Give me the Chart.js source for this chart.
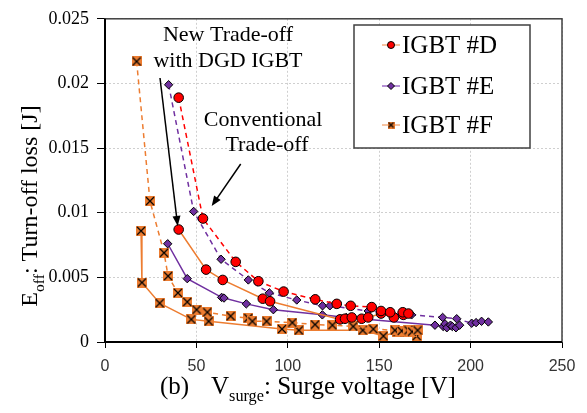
<!DOCTYPE html>
<html lang="en">
<head>
<meta charset="UTF-8">
<title>Turn-off loss vs surge voltage</title>
<script src="https://cdn.jsdelivr.net/npm/chart.js"></script>
<style>
  html, body { margin: 0; padding: 0; background: #fff; }
  #wrap { width: 587px; height: 413px; }
</style>
</head>
<body>
<div id="wrap"><canvas id="chart" width="587" height="413"></canvas></div>
<script>
// IGBT #D
const dConvX = [40.3, 53.6, 71.5, 83.9, 97.7, 115, 126.8, 134.4, 145.9, 151, 156, 162.9, 166];
const dConvY = [0.0189, 0.00955, 0.0062, 0.0047, 0.0039, 0.0033, 0.00295, 0.0028, 0.0027, 0.0024, 0.0023, 0.0023, 0.0022];
const dDgdX = [40.3, 55.3, 64.4, 86.3, 90.3, 128.6, 131.3, 135, 140.4, 144, 151, 158, 163.2];
const dDgdY = [0.0087, 0.0056, 0.0048, 0.00335, 0.00315, 0.00175, 0.0018, 0.0019, 0.0018, 0.0019, 0.0022, 0.0019, 0.0021];
// IGBT #E
const eConvX = [34.8, 48.5, 63.5, 78.4, 89.9, 104.9, 119, 123, 144, 156.8, 167.7, 184.7, 192.4, 200.6, 203, 206, 209.7];
const eConvY = [0.0199, 0.0101, 0.0064, 0.0048, 0.0038, 0.00325, 0.0028, 0.0028, 0.0024, 0.0022, 0.0021, 0.0019, 0.0018, 0.00145, 0.0015, 0.0016, 0.00155];
const eDgdX = [34.3, 45, 63.8, 65.1, 77.3, 92.1, 118.9, 132, 180.5, 185, 186, 187, 189, 190, 192, 194];
const eDgdY = [0.0076, 0.0049, 0.00345, 0.0034, 0.00295, 0.0025, 0.0021, 0.0019, 0.0013, 0.0012, 0.0014, 0.0011, 0.0013, 0.0012, 0.0011, 0.0013];
// IGBT #F
const fConvX = [17.3, 24.6, 32.3, 34.5, 39.9, 45.0, 50.1, 56.0, 68.7, 78.4, 80.6, 88.4, 102.5, 114.9, 124.4, 135.8, 146.8, 158.6, 162.3, 166, 168, 171];
const fConvY = [0.0217, 0.0109, 0.0069, 0.0051, 0.0038, 0.0031, 0.0025, 0.0023, 0.0020, 0.00185, 0.0016, 0.0016, 0.0015, 0.00135, 0.0013, 0.0012, 0.0010, 0.0009, 0.00086, 0.0009, 0.0008, 0.0009];
const fDgdX = [19.7, 20.2, 29.9, 47.2, 56.7, 96.8, 106, 141, 152.3, 160, 165, 170.5];
const fDgdY = [0.0086, 0.0046, 0.0030, 0.00175, 0.0016, 0.0010, 0.0009, 0.0009, 0.00046, 0.0008, 0.0008, 0.00046];

const xTicks = [0, 50, 100, 150, 200, 250];
const yTickLabels = ["0", "0.005", "0.01", "0.015", "0.02", "0.025"];
const legendNames = ["IGBT #D", "IGBT #E", "IGBT #F"];

const RED = "#ff0000", PURPLE = "#7030a0", ORANGE = "#ed7d31";
const SERIF = '"Liberation Serif", "Times New Roman", serif';

function pts(xs, ys) { return xs.map((x, i) => ({ x: x, y: ys[i] })); }

// orange square with a black cross
function crossBox(size) {
  const c = document.createElement("canvas");
  c.width = size; c.height = size;
  const g = c.getContext("2d");
  g.fillStyle = ORANGE;
  g.fillRect(0, 0, size, size);
  g.strokeStyle = "#000";
  g.lineWidth = 1.2;
  g.beginPath();
  g.moveTo(1, 1); g.lineTo(size - 1, size - 1);
  g.moveTo(size - 1, 1); g.lineTo(1, size - 1);
  g.stroke();
  return c;
}
const fMarker = crossBox(10);

function series(xs, ys, line, dashed, marker) {
  return Object.assign({
    data: pts(xs, ys),
    showLine: true,
    borderColor: line,
    borderWidth: 1.5,
    borderDash: dashed ? [5, 4] : [],
    pointBorderColor: "#000",
    pointBorderWidth: 1,
    tension: 0
  }, marker);
}

const dMark = { pointStyle: "circle", pointRadius: 4.8, pointBackgroundColor: RED };
const eMark = { pointStyle: "rectRot", pointRadius: 4.2, pointBackgroundColor: PURPLE };
const fMark = { pointStyle: fMarker, pointRadius: 5, pointBackgroundColor: ORANGE };

function drawParts(ctx, parts, x, y, size, center) {
  let w = 0;
  parts.forEach(p => {
    ctx.font = (p.sub ? size * 0.65 : size) + "px " + SERIF;
    w += ctx.measureText(p.t).width;
  });
  let cx = center ? x - w / 2 : x;
  parts.forEach(p => {
    ctx.font = (p.sub ? size * 0.65 : size) + "px " + SERIF;
    ctx.fillText(p.t, cx, p.sub ? y + size * 0.28 : y);
    cx += ctx.measureText(p.t).width;
  });
}

function arrow(ctx, x1, y1, x2, y2) {
  const a = Math.atan2(y2 - y1, x2 - x1);
  ctx.beginPath();
  ctx.moveTo(x1, y1);
  ctx.lineTo(x2 - 6 * Math.cos(a), y2 - 6 * Math.sin(a));
  ctx.stroke();
  ctx.beginPath();
  ctx.moveTo(x2, y2);
  ctx.lineTo(x2 - 10 * Math.cos(a) + 4 * Math.sin(a), y2 - 10 * Math.sin(a) - 4 * Math.cos(a));
  ctx.lineTo(x2 - 10 * Math.cos(a) - 4 * Math.sin(a), y2 - 10 * Math.sin(a) + 4 * Math.cos(a));
  ctx.closePath();
  ctx.fill();
}

const extras = {
  id: "extras",
  afterDraw(chart) {
    const ctx = chart.ctx;
    const a = chart.chartArea;
    ctx.save();
    // frame
    ctx.strokeStyle = "#404040";
    ctx.lineWidth = 1.5;
    ctx.strokeRect(a.left, a.top, a.right - a.left, a.bottom - a.top);
    ctx.strokeStyle = "#000";
    ctx.lineWidth = 2;
    ctx.beginPath();
    ctx.moveTo(a.left, a.top); ctx.lineTo(a.left, a.bottom); ctx.lineTo(a.right, a.bottom);
    ctx.stroke();

    // axis titles
    ctx.fillStyle = "#000";
    ctx.textAlign = "left";
    ctx.textBaseline = "alphabetic";
    drawParts(ctx, [{ t: "(b)" }], 160, 394, 25, false);
    drawParts(ctx, [{ t: "V" }, { t: "surge", sub: true }, { t: ": Surge voltage [V]" }], 211, 394, 25, false);
    ctx.save();
    ctx.translate(37, 206);
    ctx.rotate(-Math.PI / 2);
    drawParts(ctx, [{ t: "E" }, { t: "off", sub: true }, { t: ": Turn-off loss [J]" }], 0, 0, 24, true);
    ctx.restore();

    // annotations
    ctx.textAlign = "center";
    ctx.textBaseline = "middle";
    ctx.font = "22px " + SERIF;
    ctx.fillText("New Trade-off", 228, 35);
    ctx.fillText("with DGD IGBT", 228, 61);
    ctx.fillText("Conventional", 263, 120);
    ctx.fillText("Trade-off", 267, 145);
    ctx.strokeStyle = "#000";
    ctx.lineWidth = 1.5;
    arrow(ctx, 160, 78, 177.7, 226);
    arrow(ctx, 240.7, 164, 211.7, 206);

    // legend
    ctx.fillStyle = "#fff";
    ctx.fillRect(354, 25, 176, 123);
    ctx.strokeStyle = "#404040";
    ctx.lineWidth = 1.5;
    ctx.strokeRect(354, 25, 176, 123);
    const rows = [45, 86, 125];
    const lineCols = ["#f4b183", "#9e6cc7", "#f4b183"];
    rows.forEach((y, i) => {
      ctx.strokeStyle = lineCols[i];
      ctx.lineWidth = 1.5;
      ctx.beginPath(); ctx.moveTo(382, y); ctx.lineTo(400, y); ctx.stroke();
      ctx.strokeStyle = "#000";
      ctx.lineWidth = 1;
      if (i === 0) {
        ctx.fillStyle = RED;
        ctx.beginPath(); ctx.arc(391, y, 3.5, 0, Math.PI * 2); ctx.fill(); ctx.stroke();
      } else if (i === 1) {
        ctx.fillStyle = PURPLE;
        ctx.beginPath();
        ctx.moveTo(391, y - 3.5); ctx.lineTo(394.5, y); ctx.lineTo(391, y + 3.5); ctx.lineTo(387.5, y);
        ctx.closePath(); ctx.fill(); ctx.stroke();
      } else {
        ctx.drawImage(crossBox(7), 387.5, y - 3.5);
      }
      ctx.fillStyle = "#000";
      ctx.textAlign = "left";
      ctx.font = "25px " + SERIF;
      ctx.fillText(legendNames[i], 402, y + 1);
    });
    ctx.restore();
  }
};

new Chart(document.getElementById("chart"), {
  type: "scatter",
  data: {
    datasets: [
      series(dConvX, dConvY, RED, true, dMark),
      series(dDgdX, dDgdY, ORANGE, false, dMark),
      series(eConvX, eConvY, PURPLE, true, eMark),
      series(eDgdX, eDgdY, PURPLE, false, eMark),
      series(fConvX, fConvY, ORANGE, true, fMark),
      series(fDgdX, fDgdY, ORANGE, false, fMark)
    ]
  },
  options: {
    responsive: false,
    animation: false,
    layout: { padding: { top: 14, right: 25, left: 0, bottom: 0 } },
    plugins: { legend: { display: false }, tooltip: { enabled: false } },
    scales: {
      x: {
        type: "linear",
        min: 0, max: 250,
        afterFit(s) { s.height = 71; },
        afterBuildTicks(s) { s.ticks = xTicks.map(v => ({ value: v })); },
        grid: { color: "#cfcfcf", tickColor: "#000", tickLength: 6, lineWidth: 1 },
        border: { display: false, dash: [2, 2] },
        ticks: { color: "#333", padding: 9, font: { family: '"Liberation Sans", Arial, sans-serif', size: 16 }, maxRotation: 0 }
      },
      y: {
        type: "linear",
        min: 0, max: 0.025,
        afterFit(s) { s.width = 105; },
        grid: { color: "#cfcfcf", tickColor: "#000", tickLength: 8, lineWidth: 1 },
        border: { display: false, dash: [2, 2] },
        ticks: {
          stepSize: 0.005,
          color: "#000",
          padding: 8,
          font: { family: SERIF, size: 18 },
          callback: v => yTickLabels[Math.round(v / 0.005)]
        }
      }
    }
  },
  plugins: [extras]
});
</script>
</body>
</html>
